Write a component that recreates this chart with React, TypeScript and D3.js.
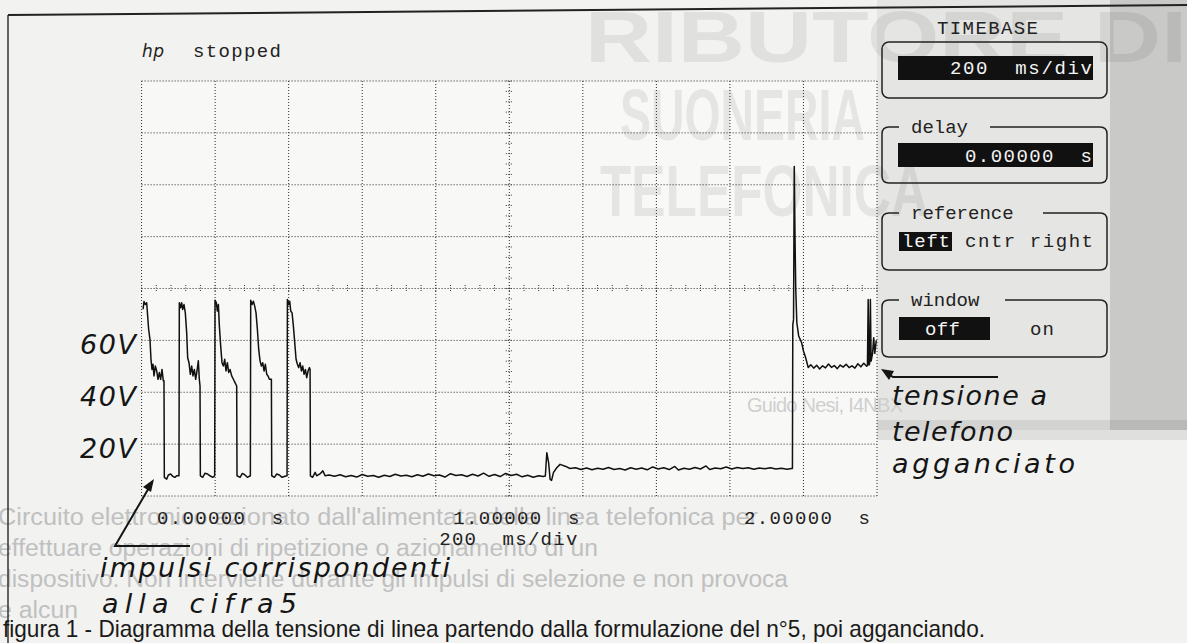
import React from 'react';
import * as d3 from 'd3';

type Pt = [number, number]; // [time ms, volts]

// five dial pulses for the digit 5
const pulse1: Pt[] = [
  [4, 72], [6.5, 75], [10, 73.8], [13.8, 74.5], [16.5, 69.4], [19.2, 64.2], [22.8, 60.4], [25.5, 52.7],
  [28.3, 48.8], [31, 50.8], [33.7, 46.3], [37.3, 50.1], [41, 48.2], [44.6, 45], [48.2, 47.6], [51.8, 45],
  [55.5, 48.8], [59.1, 44.4], [60.9, 44.4], [61.8, 7.2], [68.2, 6.5], [72.7, 8.1], [79, 8.5], [84.5, 7.6],
  [90.8, 7.2], [95.4, 7.8], [101.7, 7.8],
];
const pulse2: Pt[] = [
  [102.6, 74.5], [106.3, 72.6], [109, 74.5], [111.7, 71.9], [115.3, 73.8], [118.9, 70.6], [122.6, 62.9],
  [125.3, 53.3], [128.9, 51.4], [132.6, 46.9], [136.2, 50.1], [139.8, 46.3], [143.4, 48.8], [147.1, 45],
  [150.7, 48.2], [154.3, 52.1], [157, 45], [158.9, 42.4], [159.8, 7.8], [166.1, 7.2], [172.5, 8.8],
  [178.8, 8.5], [186.1, 7.8], [193.3, 7.2], [198.8, 7.8],
];
const pulse3: Pt[] = [
  [199.7, 75.5], [203.3, 74.5], [206, 71.3], [208.8, 73.8], [211.5, 65.5], [215.1, 57.8], [218.7, 51.4],
  [222.4, 50.1], [226, 52.7], [229.6, 48.2], [233.2, 51.4], [236.9, 47.6], [240.5, 48.8], [245, 46.3],
  [249.6, 45], [254.1, 43.7], [258.6, 42.4], [259.5, 7.8], [267.7, 7.2], [274, 8.7], [280.4, 8.2],
  [287.7, 7.2], [295.8, 7.8],
];
const pulse4: Pt[] = [
  [296.7, 75.5], [300.4, 73.8], [304, 75.1], [307.6, 73.2], [311.2, 70.6], [314.9, 64.2], [318.5, 56.5],
  [322.1, 52.1], [325.8, 50.1], [329.4, 51.4], [333, 48.2], [336.6, 50.8], [340.3, 46.9], [343.9, 46.3],
  [347.5, 45], [353, 45], [353.9, 7.8], [361.1, 7.2], [367.5, 8.5], [374.7, 8.1], [382, 7.2], [390.1, 7.6],
  [395.6, 7.8],
];
const pulse5: Pt[] = [
  [396.5, 75.8], [400.1, 73.8], [402.8, 75.1], [405.6, 71.3], [409.2, 70.6], [412.8, 65.5], [416.5, 59.1],
  [420.1, 52.7], [423.7, 50.8], [427.3, 49.5], [431, 51.4], [434.6, 48.2], [438.2, 50.1], [441.9, 46.9],
  [445.5, 48.8], [449.1, 45.6], [452.7, 48.2], [456.4, 49.5], [458.2, 48.8], [459.1, 7.8],
];

// line idle after dialling
const idleLine: Pt[] = [
  [465, 7.2], [472, 9.1], [476, 7.8], [485, 8.5], [493, 9.7], [499, 7.8], [510, 8.1], [525, 7.6], [540, 8.2],
  [555, 7.4], [570, 7.9], [585, 7.3], [600, 8.3], [615, 7.6], [630, 7.9], [645, 7.2], [660, 8.0], [675, 7.5],
  [690, 8.4], [705, 7.7], [720, 8.0], [735, 7.4], [750, 8.2], [765, 7.6], [780, 8.5], [795, 7.8], [810, 8.1],
  [825, 7.3], [840, 8.6], [855, 7.9], [870, 8.2], [885, 7.5], [900, 8.4], [915, 7.7], [930, 8.8], [945, 7.6],
  [960, 8.3], [975, 7.5], [990, 8.7], [1005, 7.9], [1020, 8.4], [1035, 7.4], [1050, 8.0], [1065, 7.2],
  [1080, 7.8], [1092, 7.5], [1098, 7.7], [1102, 16.7], [1107, 12.8], [1111, 6.4], [1115, 6.0], [1120, 9.0],
  [1129, 10.9], [1138, 12.2], [1152, 11.5], [1165, 10.6], [1180, 10.9], [1195, 10.2], [1210, 10.8],
  [1225, 10.1], [1240, 10.7], [1255, 10.3], [1270, 11.0], [1285, 10.2], [1300, 10.6], [1315, 10.0],
  [1330, 10.9], [1345, 10.3], [1360, 10.8], [1375, 10.1], [1390, 11.2], [1405, 10.4], [1420, 10.9],
  [1435, 10.2], [1450, 11.4], [1460, 10.0], [1475, 10.7], [1490, 10.3], [1505, 11.0], [1520, 10.4],
  [1535, 11.6], [1545, 10.2], [1560, 10.8], [1575, 10.5], [1590, 11.2], [1605, 10.4], [1620, 11.0],
  [1635, 10.6], [1650, 10.9], [1665, 10.3], [1680, 10.8], [1695, 10.5], [1710, 10.9], [1725, 10.4],
  [1740, 10.7], [1755, 10.3], [1768, 10.6],
];

// handset put back on hook
const hookUp: Pt[] = [
  [1770, 10.6], [1771, 66], [1773, 68], [1775, 127], [1777, 100], [1779, 80], [1782, 66.8], [1787, 61.7],
  [1795, 59.1], [1800, 55.9], [1806, 53.3], [1813, 49.5], [1820, 50.6], [1828, 49.3], [1836, 50.4],
  [1844, 49.0], [1852, 50.2], [1860, 49.4], [1868, 50.9], [1876, 49.6], [1884, 50.3], [1892, 49.1],
  [1900, 50.5], [1908, 49.7], [1916, 50.8], [1924, 49.5], [1932, 50.2], [1940, 49.3], [1948, 51.0],
  [1956, 49.8], [1964, 51.2], [1972, 50.0], [1974, 50.5], [1976, 75.8], [1978, 50.5], [1980, 51],
  [1982, 75.8], [1984, 52], [1988, 55], [1991, 61], [1994, 55], [1998, 60],
];

const voltTicks = [60, 40, 20];
const voltText = ['60V', '40V', '20V'];
const timeTicks = [0, 1000, 2000];
const timeText = ['0.00000  s', '1.00000  s', '2.00000  s'];

const ghostLines = [
  "Circuito elettronico azionato dall'alimentata della linea telefonica per",
  'effettuare operazioni di ripetizione o azionamento di un',
  'dispositivo. Non interviene durante gli impulsi di selezione e non provoca',
  'e alcun',
];

const W = 1187;
const H = 643;
const MONO = '"Liberation Mono", "DejaVu Sans Mono", monospace';
const ITAL = '"DejaVu Sans", "Liberation Sans", sans-serif';

const x = d3.scaleLinear().domain([0, 2000]).range([141.6, 877]);
const y = d3.scaleLinear().domain([0, 160]).range([496, 81]);
const trace = d3.line<Pt>().x(d => x(d[0])).y(d => y(d[1]));

const dot = { stroke: '#2a2a2a', strokeWidth: 1, strokeDasharray: '1 2' };

function PanelBox({ top, bottom, label, gapFrom, gapTo }: any) {
  const l = 882, r = 1107, rad = 7;
  if (!label) {
    return <rect x={l} y={top} width={r - l} height={bottom - top} rx={rad} fill="none" stroke="#222" strokeWidth={1.5} />;
  }
  const p = `M${gapFrom},${top} L${l + rad},${top} Q${l},${top} ${l},${top + rad} L${l},${bottom - rad} Q${l},${bottom} ${l + rad},${bottom}
    L${r - rad},${bottom} Q${r},${bottom} ${r},${bottom - rad} L${r},${top + rad} Q${r},${top} ${r - rad},${top} L${gapTo},${top}`;
  return (
    <g>
      <path d={p} fill="none" stroke="#222" strokeWidth={1.5} />
      <text x={gapFrom + 12} y={top + 6} fontFamily={MONO} fontSize={19} fill="#222">{label}</text>
    </g>
  );
}

export default function App() {
  const all = [pulse1, pulse2, pulse3, pulse4, pulse5, idleLine, hookUp].flat() as Pt[];
  const gridT = d3.range(0, 2001, 200);
  const gridV = d3.range(0, 161, 20);
  const minorT = d3.range(0, 2001, 40);
  const minorV = d3.range(0, 161, 4);

  return (
    <svg width={W} height={H} style={{ position: 'absolute', left: 0, top: 0 }}>
      <rect width={W} height={H} fill="#f2f2f0" />
      <rect x={x(0)} y={y(160)} width={x(2000) - x(0)} height={y(0) - y(160)} fill="#f8f8f7" />
      {/* print-through from the magazine page */}
      <rect x={877} y={0} width={310} height={430} fill="#000" opacity={0.05} />
      <rect x={1110} y={0} width={77} height={430} fill="#000" opacity={0.12} />
      <rect x={877} y={420} width={310} height={20} fill="#000" opacity={0.08} />
      <g fontFamily='"Liberation Sans", Arial, sans-serif' fontWeight="bold" fontSize={72} fill="#000" opacity={0.07}>
        <text x={585} y={62} textLength={602} lengthAdjust="spacingAndGlyphs">RIBUTORE DI</text>
        <text x={620} y={140} textLength={245} lengthAdjust="spacingAndGlyphs">SUONERIA</text>
        <text x={600} y={216} textLength={328} lengthAdjust="spacingAndGlyphs">TELEFONICA</text>
      </g>
      <text x={747} y={412} fontFamily='"Liberation Sans", sans-serif' fontSize={20} fill="#cfcfcf" textLength={156}>Guido Nesi, I4NBX</text>
      <g fontFamily='"Liberation Sans Narrow", "Liberation Sans", sans-serif' fontSize={23} fill="#c0c0c0">
        {ghostLines.map((t, i) => (
          <text key={i} x={-2} y={525 + i * 31} textLength={[760, 600, 790, 80][i]} lengthAdjust="spacingAndGlyphs">{t}</text>
        ))}
      </g>

      {/* frame */}
      <line x1={8} y1={15} x2={W} y2={5} stroke="#222" strokeWidth={2} />
      <line x1={8} y1={15} x2={8} y2={H} stroke="#333" strokeWidth={1.5} />

      {/* scope screen */}
      <g>
        {gridT.map(t => <line key={'t' + t} x1={x(t)} x2={x(t)} y1={y(0)} y2={y(160)} {...dot} />)}
        {gridV.map(v => <line key={'v' + v} x1={x(0)} x2={x(2000)} y1={y(v)} y2={y(v)} {...dot} />)}
        {minorT.map(t => <line key={'mt' + t} x1={x(t)} x2={x(t)} y1={y(80) - 3.5} y2={y(80) + 3.5} stroke="#333" strokeWidth={1} strokeDasharray="1 1.5" />)}
        {minorV.map(v => <line key={'mv' + v} x1={x(1000) - 3.5} x2={x(1000) + 3.5} y1={y(v)} y2={y(v)} stroke="#333" strokeWidth={1} strokeDasharray="1 1.5" />)}
      </g>
      <path d={trace(all) || ''} fill="none" stroke="#111" strokeWidth={1.5} strokeLinejoin="round" />

      {/* screen texts */}
      <text x={142} y={57} fontFamily={ITAL} fontStyle="italic" fontSize={17} fill="#222" textLength={22}>hp</text>
      <text x={193} y={57} fontFamily={MONO} fontSize={19} fill="#222" textLength={88}>stopped</text>
      {timeTicks.map((t, i) => (
        <text key={t} x={i === 0 ? x(t) + 15.5 : i === 1 ? x(t) + 70 : x(t) - 7} y={524}
          textAnchor={i === 0 ? 'start' : 'end'} fontFamily={MONO} fontSize={19} fill="#222" textLength={126}
          style={{ whiteSpace: 'pre' }}>{timeText[i]}</text>
      ))}
      <text x={x(1000) + 68} y={545} textAnchor="end" fontFamily={MONO} fontSize={19} fill="#222" textLength={138}
        style={{ whiteSpace: 'pre' }}>200  ms/div</text>

      {/* right panel */}
      <text x={937} y={34} fontFamily={MONO} fontSize={19} fill="#222" textLength={101}>TIMEBASE</text>
      <PanelBox top={42} bottom={98} />
      <rect x={898} y={56} width={195} height={24} fill="#111" />
      <text x={1092} y={74} textAnchor="end" fontFamily={MONO} fontSize={19} fill="#f4f4f4" textLength={142}
        style={{ whiteSpace: 'pre' }}>200  ms/div</text>

      <PanelBox top={127} bottom={183} label="delay" gapFrom={899} gapTo={990} />
      <rect x={898} y={143} width={195} height={24} fill="#111" />
      <text x={1092} y={162} textAnchor="end" fontFamily={MONO} fontSize={19} fill="#f4f4f4" textLength={127}
        style={{ whiteSpace: 'pre' }}>0.00000  s</text>

      <PanelBox top={213} bottom={270} label="reference" gapFrom={899} gapTo={1043} />
      <rect x={899} y={232} width={53} height={19} fill="#111" />
      <text x={902} y={247} fontFamily={MONO} fontSize={19} fill="#f4f4f4" textLength={48}>left</text>
      <text x={965} y={247} fontFamily={MONO} fontSize={19} fill="#222" textLength={128}>cntr right</text>

      <PanelBox top={300} bottom={357} label="window" gapFrom={899} gapTo={1005} />
      <rect x={899} y={317} width={91} height={23} fill="#111" />
      <text x={925} y={335} fontFamily={MONO} fontSize={19} fill="#f4f4f4" textLength={35}>off</text>
      <text x={1030} y={335} fontFamily={MONO} fontSize={19} fill="#222" textLength={24}>on</text>

      {/* hand-written annotations */}
      <g fontFamily={ITAL} fontStyle="italic" fontSize={27} fill="#151515">
        {voltTicks.map((v, i) => (
          <text key={v} x={136} y={y(v) + 14} textAnchor="end" textLength={56}>{voltText[i]}</text>
        ))}
        <text x={100} y={577} textLength={350}>impulsi corrispondenti</text>
        <text x={102} y={613} textLength={195}>alla cifra5</text>
        <text x={892} y={405} textLength={155}>tensione a</text>
        <text x={892} y={441} textLength={121}>telefono</text>
        <text x={892} y={473} textLength={183}>agganciato</text>
      </g>
      <g stroke="#151515" strokeWidth={2} fill="none">
        <path d="M190,546 L115,546 L150,486" />
        <path d="M998,377 L893,377 L887,373" />
      </g>
      <path d="M154,479 L143,487 L151,492 Z" fill="#151515" />
      <path d="M881,369 L894,371 L889,380 Z" fill="#151515" />

      <text x={3} y={637} fontFamily='"Liberation Sans Narrow", "Liberation Sans", sans-serif' fontSize={24} fill="#1a1a1a"
        textLength={982} lengthAdjust="spacingAndGlyphs">
        figura 1 - Diagramma della tensione di linea partendo dalla formulazione del n°5, poi agganciando.
      </text>
    </svg>
  );
}
